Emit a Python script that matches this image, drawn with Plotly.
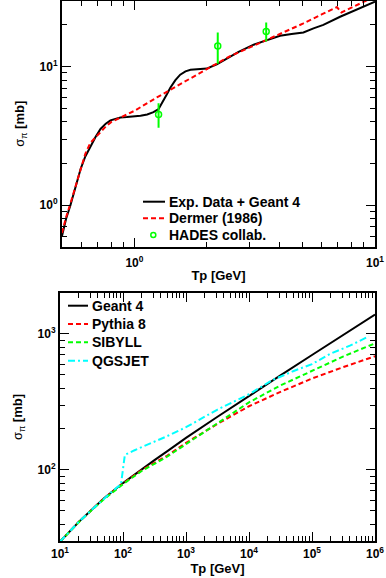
import math
import plotly.graph_objects as go

# ---------------- top panel data ----------------
g4_top_T = [0.5, 0.52, 0.542, 0.57, 0.597, 0.625, 0.656, 0.69, 0.723, 0.76, 0.795, 0.84, 0.875, 0.93,
            0.99, 1.06, 1.13, 1.2, 1.26, 1.32, 1.37, 1.41, 1.48, 1.55, 1.63, 1.71, 1.85, 2.0, 2.2,
            2.42, 2.71, 3.13, 3.55, 4.03, 4.5, 5.04, 5.55, 6.1, 7.16, 8.5, 10.0]
g4_top_sigma = [0.60, 0.80, 1.0, 1.38, 1.82, 2.25, 2.67, 3.12, 3.55, 3.88, 4.10, 4.24, 4.30, 4.33,
                4.36, 4.42, 4.52, 4.70, 4.95, 5.65, 6.4, 7.05, 8.0, 8.75, 9.25, 9.5, 9.62, 9.68, 10.4,
                11.4, 12.8, 14.4, 15.6, 16.7, 17.2, 17.65, 18.9, 20.0, 22.9, 26.0, 29.4]

dermer_T = [0.5, 0.52, 0.542, 0.57, 0.597, 0.625, 0.656, 0.69, 0.723, 0.76, 0.8, 0.875, 1.0, 1.24,
            1.55, 2.0, 2.5, 3.44, 4.4, 5.04, 6.0, 6.95, 7.25, 8.0, 9.1, 10.0]
dermer_sigma = [0.63, 0.82, 1.03, 1.40, 1.85, 2.35, 2.82, 3.10, 3.38, 3.70, 3.98, 4.30, 4.80, 6.0,
                7.5, 9.6, 11.9, 15.2, 18.3, 20.5, 23.8, 26.9, 24.6, 26.8, 29.7, 32.0]

hades_T = [1.26, 2.22, 3.53]
hades_sigma = [4.52, 14.1, 17.9]
hades_up = [5.45, 17.6, 20.8]
hades_lo = [3.62, 10.5, 15.2]

top_names = ["Exp. Data + Geant 4", "Dermer (1986)", "HADES collab."]

# ---------------- bottom panel data ----------------
g4_T = [10, 20, 31.6, 50, 100, 200, 316, 500, 1000, 3162, 1e4, 3.16e4, 1e5, 3.16e5, 1e6]
g4_sigma = [29.7, 41.6, 50.7, 61.8, 80, 101.6, 118, 137, 172, 246, 351, 496, 700, 988, 1390]

pythia_T = [10, 20, 31.6, 50, 100, 200, 500, 1000, 3162, 1e4, 3.16e4, 1e5, 3.16e5, 1e6]
pythia_sigma = [29.7, 41.6, 50.7, 61.8, 79.5, 100, 127, 158, 218, 294, 375, 470, 571, 685]

sibyll_T = [10, 20, 31.6, 50, 100, 200, 500, 1000, 3162, 1e4, 3.16e4, 1e5, 3.16e5, 1e6]
sibyll_sigma = [29.7, 41.4, 50.4, 61.0, 78.5, 98.5, 125, 155, 221, 314, 418, 537, 684, 853]

qgsjet_T = [10, 20, 31.6, 50, 70, 93, 107, 150, 224, 500, 1000, 3162, 1e4, 2.3e4, 5e4, 1e5, 1.93e5, 4e5, 8e5]
qgsjet_sigma = [29.7, 41.6, 50.7, 61.8, 70.5, 78.5, 129, 139, 150, 177, 206, 278, 360, 455, 532, 600, 713, 820, 960]

bottom_names = ["Geant 4", "Pythia 8", "SIBYLL", "QGSJET"]

FONT = "Liberation Sans, Arial, Helvetica, sans-serif"
W, H = 386, 578
RED, GREEN, CYAN = "#ff0000", "#00ff00", "#00ffff"
DASH = "5px,3px"
DASHDOT = "7px,3px,2px,3px"

fig = go.Figure()

# top panel traces
fig.add_trace(go.Scatter(x=g4_top_T, y=g4_top_sigma, mode="lines", name=top_names[0],
                         line=dict(color="black", width=2), xaxis="x", yaxis="y"))
fig.add_trace(go.Scatter(x=dermer_T, y=dermer_sigma, mode="lines", name=top_names[1],
                         line=dict(color=RED, width=2, dash=DASH), xaxis="x", yaxis="y"))
fig.add_trace(go.Scatter(x=hades_T, y=hades_sigma, mode="markers", name=top_names[2],
                         marker=dict(symbol="circle-open", size=6, color=GREEN,
                                     line=dict(width=1.5, color=GREEN)),
                         error_y=dict(type="data", symmetric=False,
                                      array=[u - s for u, s in zip(hades_up, hades_sigma)],
                                      arrayminus=[s - l for s, l in zip(hades_sigma, hades_lo)],
                                      color=GREEN, thickness=2, width=0),
                         xaxis="x", yaxis="y"))

# bottom panel traces
fig.add_trace(go.Scatter(x=g4_T, y=g4_sigma, mode="lines", name=bottom_names[0],
                         line=dict(color="black", width=2), xaxis="x2", yaxis="y2"))
fig.add_trace(go.Scatter(x=pythia_T, y=pythia_sigma, mode="lines", name=bottom_names[1],
                         line=dict(color=RED, width=2, dash=DASH), xaxis="x2", yaxis="y2"))
fig.add_trace(go.Scatter(x=sibyll_T, y=sibyll_sigma, mode="lines", name=bottom_names[2],
                         line=dict(color=GREEN, width=2, dash=DASH), xaxis="x2", yaxis="y2"))
fig.add_trace(go.Scatter(x=qgsjet_T, y=qgsjet_sigma, mode="lines", name=bottom_names[3],
                         line=dict(color=CYAN, width=2, dash=DASHDOT), xaxis="x2", yaxis="y2"))
fig.update_traces(showlegend=False)


def sup_label(e):
    return f"<b>10<sup>{e}</sup></b>"


def minor_vals(lo_exp, hi_exp, lo, hi):
    vals = []
    for e in range(lo_exp, hi_exp + 1):
        for d in range(2, 10):
            v = d * 10 ** e
            if lo <= v <= hi:
                vals.append(v)
    return vals


def axis_common(**kw):
    d = dict(type="log", showline=True, linecolor="black", linewidth=2, mirror="allticks",
             ticks="inside", ticklen=9, tickwidth=1, tickcolor="black", showgrid=False,
             zeroline=False, automargin=False,
             tickfont=dict(family=FONT, size=12, color="black"))
    d.update(kw)
    return d


# ---- legends drawn as line samples + text (ROOT-style compact legend) ----
def px_x(x):
    return x / W


def px_y(y):
    return 1 - y / H


shapes = []
annotations = []
top_rows = [201.7, 218.3, 235.0]
top_styles = [("black", None), (RED, DASH), (GREEN, "marker")]
for name, yc, (col, dash) in zip(top_names, top_rows, top_styles):
    if dash == "marker":
        shapes.append(dict(type="circle", xref="paper", yref="paper",
                           x0=px_x(150.8), x1=px_x(155.8), y0=px_y(yc + 2.5), y1=px_y(yc - 2.5),
                           line=dict(color=col, width=1.5)))
    else:
        ln = dict(color=col, width=2)
        if dash:
            ln["dash"] = dash
        shapes.append(dict(type="line", xref="paper", yref="paper",
                           x0=px_x(143), x1=px_x(165), y0=px_y(yc), y1=px_y(yc), line=ln))
    annotations.append(dict(text=f"<b>{name}</b>", xref="paper", yref="paper", x=px_x(167),
                            y=px_y(yc), xanchor="left", yanchor="middle", showarrow=False,
                            font=dict(family=FONT, size=14, color="black")))

bot_rows = [305.7, 324.0, 342.3, 360.7]
bot_styles = [("black", None), (RED, DASH), (GREEN, DASH), (CYAN, DASHDOT)]
for name, yc, (col, dash) in zip(bottom_names, bot_rows, bot_styles):
    ln = dict(color=col, width=2)
    if dash:
        ln["dash"] = dash
    shapes.append(dict(type="line", xref="paper", yref="paper",
                       x0=px_x(68), x1=px_x(88), y0=px_y(yc), y1=px_y(yc), line=ln))
    annotations.append(dict(text=f"<b>{name}</b>", xref="paper", yref="paper", x=px_x(90),
                            y=px_y(yc), xanchor="left", yanchor="middle", showarrow=False,
                            font=dict(family=FONT, size=14, color="black")))

fig.update_layout(
    width=W, height=H,
    paper_bgcolor="white", plot_bgcolor="white",
    margin=dict(l=0, r=0, t=0, b=0),
    font=dict(family=FONT, color="black"),
    showlegend=False,
    hovermode=False,
    shapes=shapes,
    annotations=annotations,
    xaxis=axis_common(
        range=[math.log10(0.5), 1], domain=[62 / W, 375 / W], anchor="y",
        tickvals=[1, 10], ticktext=[sup_label(0), sup_label(1)], ticklabelstandoff=4,
        minor=dict(ticks="inside", ticklen=5, tickcolor="black",
                   tickvals=minor_vals(-1, 0, 0.5, 10)),
        title=dict(text="<b>Tp [GeV]</b>", font=dict(family=FONT, size=13), standoff=1)),
    yaxis=axis_common(
        range=[math.log10(0.5), math.log10(30)], domain=[(H - 247) / H, (H - 0.5) / H], anchor="x",
        tickvals=[1, 10], ticktext=[sup_label(0), sup_label(1)], ticklabelstandoff=0,
        minor=dict(ticks="inside", ticklen=5, tickcolor="black",
                   tickvals=minor_vals(-1, 1, 0.5, 30)),
        title=dict(text="σ<sub>π</sub> <b>[mb]</b>", font=dict(family=FONT, size=13), standoff=12)),
    xaxis2=axis_common(
        range=[1, 6], domain=[60 / W, 375 / W], anchor="y2",
        tickvals=[10 ** e for e in range(1, 7)], ticktext=[sup_label(e) for e in range(1, 7)],
        ticklabelstandoff=1,
        minor=dict(ticks="inside", ticklen=5, tickcolor="black",
                   tickvals=minor_vals(1, 5, 10, 1e6)),
        title=dict(text="<b>Tp [GeV]</b>", font=dict(family=FONT, size=13), standoff=0)),
    yaxis2=axis_common(
        range=[math.log10(30), math.log10(2000)], domain=[(H - 541) / H, (H - 293) / H], anchor="x2",
        tickvals=[100, 1000], ticktext=[sup_label(2), sup_label(3)], ticklabelstandoff=0,
        minor=dict(ticks="inside", ticklen=5, tickcolor="black",
                   tickvals=minor_vals(1, 3, 30, 2000)),
        title=dict(text="σ<sub>π</sub> <b>[mb]</b>", font=dict(family=FONT, size=13), standoff=12)),
)

fig.write_html("out.html",
               config={"displayModeBar": False, "staticPlot": True},
               post_script="document.body.style.margin='0px';"
                           "document.documentElement.style.overflow='hidden';")
